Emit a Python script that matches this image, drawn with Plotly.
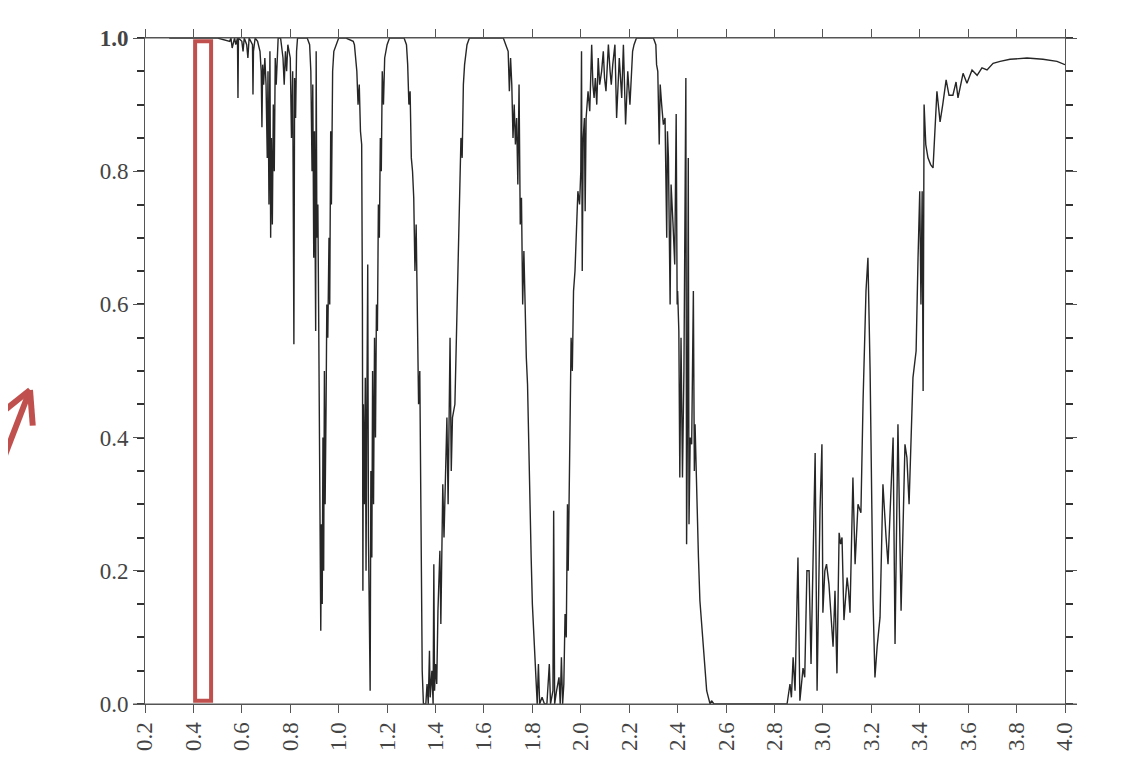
import plotly.graph_objects as go

# ---- spectrum values (wavelength in um, transmittance) ----
band_vis_nir = [
    (0.30, 1.0), (0.50, 1.0), (0.55, 0.995), (0.555, 1.0), (0.56, 0.985), (0.57, 1.0),
    (0.575, 0.99), (0.582, 1.0), (0.584, 0.91), (0.586, 1.0), (0.60, 0.995), (0.605, 0.98),
    (0.61, 1.0), (0.62, 0.99), (0.625, 0.97), (0.63, 1.0), (0.644, 0.99), (0.646, 0.915),
    (0.648, 0.98), (0.655, 1.0), (0.665, 0.995), (0.675, 0.98), (0.68, 0.95), (0.683, 0.866),
    (0.686, 0.96), (0.69, 0.93), (0.695, 0.97), (0.70, 0.93), (0.705, 0.82), (0.708, 0.95),
    (0.712, 0.75), (0.716, 0.98), (0.719, 0.70), (0.722, 0.85), (0.726, 0.72), (0.73, 0.90),
    (0.734, 0.80), (0.738, 0.97), (0.742, 0.93), (0.75, 1.0), (0.76, 1.0), (0.77, 0.97),
    (0.775, 0.93), (0.78, 0.98), (0.785, 0.95), (0.79, 0.99), (0.80, 0.97), (0.805, 0.85),
    (0.81, 0.95), (0.815, 0.54), (0.818, 0.94), (0.822, 0.88), (0.826, 0.98), (0.83, 1.0),
    (0.84, 1.0), (0.87, 1.0), (0.88, 0.99), (0.885, 0.95), (0.89, 0.80), (0.893, 0.93),
    (0.897, 0.67), (0.90, 0.86), (0.905, 0.56), (0.907, 0.98), (0.91, 0.70), (0.914, 0.75),
    (0.917, 0.60), (0.92, 0.45), (0.923, 0.32), (0.926, 0.11), (0.929, 0.27), (0.932, 0.15),
    (0.935, 0.40), (0.938, 0.20), (0.941, 0.50), (0.944, 0.30), (0.948, 0.45), (0.951, 0.60),
    (0.955, 0.55), (0.96, 0.70), (0.963, 0.60), (0.967, 0.86), (0.97, 0.75), (0.975, 0.95),
    (0.98, 0.98), (0.99, 0.99), (1.0, 1.0),
]
band_1um = [
    (1.03, 1.0), (1.06, 0.995), (1.065, 0.99), (1.07, 0.97), (1.075, 0.95), (1.08, 0.90),
    (1.085, 0.93), (1.09, 0.86), (1.095, 0.84), (1.098, 0.60), (1.10, 0.17), (1.102, 0.45),
    (1.106, 0.30), (1.11, 0.49), (1.113, 0.20), (1.116, 0.42), (1.12, 0.66), (1.123, 0.25),
    (1.126, 0.18), (1.13, 0.02), (1.133, 0.35), (1.137, 0.22), (1.14, 0.50), (1.144, 0.30),
    (1.148, 0.55), (1.152, 0.40), (1.156, 0.60), (1.16, 0.56), (1.164, 0.75), (1.168, 0.70),
    (1.172, 0.85), (1.176, 0.80), (1.18, 0.95), (1.185, 0.90), (1.19, 0.97), (1.20, 0.99),
    (1.21, 1.0), (1.27, 1.0), (1.28, 0.99), (1.285, 0.96), (1.29, 0.90), (1.295, 0.92),
    (1.30, 0.82), (1.305, 0.80), (1.31, 0.76), (1.315, 0.65), (1.32, 0.72), (1.325, 0.55),
    (1.33, 0.45), (1.335, 0.50), (1.34, 0.20), (1.345, 0.05), (1.35, 0.0), (1.36, 0.0),
    (1.365, 0.03), (1.37, 0.0), (1.375, 0.08), (1.378, 0.01), (1.385, 0.05), (1.39, 0.0),
    (1.393, 0.21), (1.396, 0.02), (1.40, 0.06), (1.405, 0.03), (1.41, 0.14), (1.418, 0.23),
    (1.422, 0.12), (1.43, 0.33), (1.435, 0.25), (1.447, 0.43), (1.452, 0.30), (1.46, 0.55),
    (1.465, 0.35), (1.47, 0.43), (1.48, 0.45), (1.49, 0.62), (1.50, 0.79), (1.505, 0.85),
    (1.51, 0.82), (1.515, 0.93), (1.52, 0.96), (1.53, 0.99), (1.54, 1.0),
]
band_1p6_2p2 = [
    (1.68, 1.0), (1.69, 0.99), (1.70, 0.98), (1.705, 0.92), (1.71, 0.97), (1.715, 0.93),
    (1.72, 0.85), (1.725, 0.90), (1.73, 0.84), (1.735, 0.88), (1.74, 0.78), (1.745, 0.93),
    (1.75, 0.72), (1.755, 0.76), (1.76, 0.60), (1.765, 0.68), (1.77, 0.57), (1.775, 0.52),
    (1.78, 0.48), (1.785, 0.38), (1.79, 0.30), (1.795, 0.22), (1.80, 0.15), (1.805, 0.11),
    (1.81, 0.066), (1.815, 0.03), (1.82, 0.0), (1.825, 0.06), (1.83, 0.0), (1.84, 0.01),
    (1.85, 0.0), (1.86, 0.0), (1.87, 0.06), (1.875, 0.0), (1.885, 0.02), (1.888, 0.29),
    (1.892, 0.0), (1.90, 0.02), (1.91, 0.04), (1.915, 0.0), (1.92, 0.07), (1.925, 0.0),
    (1.93, 0.03), (1.935, 0.135), (1.94, 0.10), (1.945, 0.30), (1.948, 0.20), (1.955, 0.40),
    (1.96, 0.55), (1.965, 0.50), (1.97, 0.62), (1.976, 0.65), (1.982, 0.72), (1.988, 0.77),
    (1.995, 0.75), (2.0, 0.80), (2.003, 0.98), (2.006, 0.65), (2.01, 0.85), (2.015, 0.88),
    (2.018, 0.74), (2.022, 0.88), (2.03, 0.92), (2.037, 0.89), (2.045, 0.99), (2.05, 0.93),
    (2.055, 0.91), (2.06, 0.94), (2.066, 0.90), (2.072, 0.97), (2.078, 0.93), (2.086, 0.95),
    (2.093, 0.98), (2.098, 0.94), (2.104, 0.92), (2.114, 0.99), (2.121, 0.95), (2.126, 0.93),
    (2.132, 0.96), (2.141, 0.99), (2.148, 0.88), (2.154, 0.94), (2.159, 0.97), (2.169, 0.91),
    (2.176, 0.99), (2.185, 0.87), (2.194, 0.95), (2.203, 0.90), (2.209, 0.94), (2.214, 0.98),
    (2.22, 0.99), (2.23, 1.0),
]
band_2p3_2p8 = [
    (2.30, 1.0), (2.31, 0.99), (2.313, 0.96), (2.318, 0.95), (2.324, 0.84), (2.328, 0.93),
    (2.334, 0.90), (2.341, 0.87), (2.348, 0.88), (2.355, 0.70), (2.358, 0.86), (2.362, 0.82),
    (2.369, 0.60), (2.373, 0.78), (2.381, 0.72), (2.388, 0.66), (2.394, 0.886), (2.398, 0.60),
    (2.40, 0.62), (2.405, 0.56), (2.409, 0.34), (2.414, 0.55), (2.42, 0.34), (2.426, 0.50),
    (2.434, 0.94), (2.437, 0.24), (2.441, 0.45), (2.444, 0.82), (2.447, 0.27), (2.452, 0.40),
    (2.458, 0.39), (2.465, 0.62), (2.469, 0.35), (2.472, 0.42), (2.479, 0.30), (2.486, 0.22),
    (2.492, 0.155), (2.50, 0.12), (2.506, 0.09), (2.513, 0.05), (2.52, 0.02), (2.527, 0.01),
    (2.534, 0.0), (2.54, 0.005), (2.55, 0.0), (2.83, 0.0),
]
band_3um = [
    (2.852, 0.0), (2.864, 0.03), (2.87, 0.01), (2.877, 0.07), (2.885, 0.02), (2.897, 0.22),
    (2.905, 0.005), (2.918, 0.054), (2.925, 0.04), (2.934, 0.20), (2.943, 0.20), (2.951, 0.06),
    (2.968, 0.377), (2.976, 0.02), (2.988, 0.29), (2.996, 0.39), (3.0, 0.137), (3.008, 0.20),
    (3.015, 0.21), (3.025, 0.18), (3.033, 0.14), (3.042, 0.086), (3.05, 0.17), (3.058, 0.046),
    (3.067, 0.257), (3.073, 0.24), (3.079, 0.25), (3.087, 0.126), (3.10, 0.19), (3.106, 0.17),
    (3.112, 0.137), (3.124, 0.34), (3.133, 0.21), (3.145, 0.30), (3.157, 0.287), (3.166, 0.456),
    (3.178, 0.62), (3.186, 0.67), (3.195, 0.50), (3.207, 0.156), (3.215, 0.04), (3.224, 0.086),
    (3.236, 0.13), (3.248, 0.33), (3.261, 0.25), (3.269, 0.21), (3.28, 0.31), (3.29, 0.40),
    (3.298, 0.09), (3.31, 0.42), (3.323, 0.14), (3.339, 0.39), (3.347, 0.37), (3.356, 0.30),
    (3.372, 0.49), (3.385, 0.53), (3.393, 0.67), (3.40, 0.77), (3.405, 0.60), (3.41, 0.77),
    (3.414, 0.47), (3.418, 0.90), (3.425, 0.84), (3.434, 0.82), (3.445, 0.81), (3.455, 0.805),
]
band_mwir = [
    (3.471, 0.92), (3.484, 0.874), (3.495, 0.90), (3.509, 0.937), (3.521, 0.914), (3.537, 0.914),
    (3.55, 0.934), (3.558, 0.91), (3.579, 0.947), (3.595, 0.932), (3.616, 0.952), (3.637, 0.944),
    (3.657, 0.955), (3.678, 0.952), (3.703, 0.962), (3.732, 0.965), (3.773, 0.968), (3.843, 0.97),
    (3.909, 0.968), (3.967, 0.965), (4.0, 0.96),
]

x_ticks = [0.2, 0.4, 0.6, 0.8, 1.0, 1.2, 1.4, 1.6, 1.8, 2.0, 2.2, 2.4, 2.6, 2.8, 3.0,
           3.2, 3.4, 3.6, 3.8, 4.0]
x_labels = ["0.2", "0.4", "0.6", "0.8", "1.0", "1.2", "1.4", "1.6", "1.8", "2.0", "2.2",
            "2.4", "2.6", "2.8", "3.0", "3.2", "3.4", "3.6", "3.8", "4.0"]
y_ticks = [0.0, 0.2, 0.4, 0.6, 0.8, 1.0]
y_labels = ["0.0", "0.2", "0.4", "0.6", "0.8", "<b>1.0</b>"]
highlight_band = (0.407, 0.473)   # wavelength band marked by the red box

points = band_vis_nir + band_1um + band_1p6_2p2 + band_2p3_2p8 + band_3um + band_mwir
wavelength = [p[0] for p in points]
transmittance = [p[1] for p in points]

RED = "#c0504d"
AXIS = "#555555"
FONT = "Liberation Serif"

fig = go.Figure()
fig.add_trace(go.Scatter(
    x=wavelength, y=transmittance, mode="lines",
    line=dict(color="#262626", width=1.4),
    showlegend=False, hoverinfo="skip",
))

fig.update_layout(
    width=1127, height=764,
    margin=dict(l=137, r=70, t=30, b=68),
    paper_bgcolor="white", plot_bgcolor="white",
    showlegend=False,
    xaxis=dict(
        range=[0.2, 4.0], tickmode="array", tickvals=x_ticks, ticktext=x_labels,
        tickangle=-90, ticks="outside", ticklen=8, tickwidth=1, tickcolor=AXIS,
        showline=True, linecolor=AXIS, linewidth=1, mirror="ticks",
        showgrid=False, zeroline=False,
        tickfont=dict(family=FONT, size=23, color="#444444"),
    ),
    yaxis=dict(
        range=[0, 1], tickmode="array", tickvals=y_ticks, ticktext=y_labels,
        ticks="outside", ticklen=11, tickwidth=1, tickcolor=AXIS,
        minor=dict(dtick=0.05, ticks="outside", ticklen=7, tickwidth=1.5, tickcolor="#333333"),
        showline=True, linecolor=AXIS, linewidth=1, mirror="ticks",
        showgrid=False, zeroline=False,
        tickfont=dict(family=FONT, size=23, color="#444444"),
    ),
)

shapes = []
# horizontal frame lines slightly overhanging the axes
for yv in (0.0, 1.0):
    shapes.append(dict(type="line", xref="paper", yref="y", x0=-0.013, x1=1.013, y0=yv, y1=yv,
                       line=dict(color=AXIS, width=1)))
# red highlight box
shapes.append(dict(type="rect", xref="x", yref="y", x0=highlight_band[0], x1=highlight_band[1],
                   y0=0.005, y1=0.995, line=dict(color=RED, width=4), fillcolor="rgba(0,0,0,0)"))
# red arrow (shaft + open chevron head), in paper coordinates left of the plot
tip = (-0.125, 0.4715)
shapes.append(dict(type="line", xref="paper", yref="paper", x0=-0.170, y0=0.31, x1=tip[0], y1=tip[1],
                   line=dict(color=RED, width=6)))
shapes.append(dict(type="line", xref="paper", yref="paper", x0=-0.156, y0=0.437, x1=tip[0], y1=tip[1],
                   line=dict(color=RED, width=6)))
shapes.append(dict(type="line", xref="paper", yref="paper", x0=-0.122, y0=0.418, x1=tip[0], y1=tip[1],
                   line=dict(color=RED, width=6)))
fig.update_layout(shapes=shapes)

fig.write_html("out.html")
